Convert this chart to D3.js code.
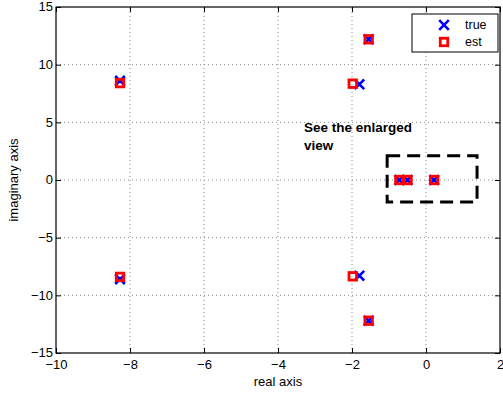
<!DOCTYPE html>
<html>
<head>
<meta charset="utf-8">
<script src="https://cdn.jsdelivr.net/npm/d3@7"></script>
<style>
  html, body { margin: 0; padding: 0; background: #fff; }
  svg { display: block; font-family: "Liberation Sans", Arial, sans-serif; }
</style>
</head>
<body>
<svg id="chart" width="503" height="394"></svg>
<script>
// Pole locations: true values and estimates (real, imaginary)
const trueReal = [-8.27, -8.27, -1.55, -1.55, -1.80, -1.80, -0.72, -0.50, 0.22];
const trueImag = [8.6, -8.6, 12.2, -12.2, 8.3, -8.3, 0, 0, 0];
const estReal  = [-8.27, -8.27, -1.55, -1.55, -1.98, -1.98, -0.72, -0.50, 0.22];
const estImag  = [8.4, -8.4, 12.2, -12.2, 8.35, -8.35, 0, 0, 0];

const xTicks = [-10, -8, -6, -4, -2, 0, 2];
const yTicks = [-15, -10, -5, 0, 5, 10, 15];
const zoomBox = { x0: -1.05, x1: 1.38, y0: -1.9, y1: 2.1 };
const note = ["See the enlarged", "view"];

const svg = d3.select("#chart");
const m = { left: 56, right: 3, top: 7, bottom: 41 };
const W = 503, H = 394;
const x = d3.scaleLinear().domain([-10, 2]).range([m.left, W - m.right]);
const y = d3.scaleLinear().domain([-15, 15]).range([H - m.bottom, m.top]);
const fmt = d => (d < 0 ? "\u2212" + Math.abs(d) : String(d));

// dotted grid
const grid = svg.append("g").attr("stroke", "#888").attr("stroke-width", 1)
  .attr("stroke-dasharray", "1,3");
xTicks.slice(1, -1).forEach(t => grid.append("line")
  .attr("x1", x(t)).attr("x2", x(t)).attr("y1", y(-15)).attr("y2", y(15)));
yTicks.slice(1, -1).forEach(t => grid.append("line")
  .attr("x1", x(-10)).attr("x2", x(2)).attr("y1", y(t)).attr("y2", y(t)));

// axes with inward ticks
const axB = svg.append("g").attr("transform", `translate(0,${y(-15)})`)
  .call(d3.axisBottom(x).tickValues(xTicks).tickFormat(fmt).tickSizeInner(-5).tickSizeOuter(0).tickPadding(7));
const axL = svg.append("g").attr("transform", `translate(${x(-10)},0)`)
  .call(d3.axisLeft(y).tickValues(yTicks).tickFormat(fmt).tickSizeInner(-5).tickSizeOuter(0).tickPadding(3));
const axT = svg.append("g").attr("transform", `translate(0,${y(15)})`)
  .call(d3.axisTop(x).tickValues(xTicks).tickFormat("").tickSizeInner(-5).tickSizeOuter(0));
const axR = svg.append("g").attr("transform", `translate(${x(2)},0)`)
  .call(d3.axisRight(y).tickValues(yTicks).tickFormat("").tickSizeInner(-5).tickSizeOuter(0));
[axB, axL, axT, axR].forEach(a => {
  a.select(".domain").remove();
  a.selectAll("line").attr("stroke", "#000");
  a.selectAll("text").attr("font-size", 13).attr("fill", "#000")
    .attr("font-family", "Liberation Sans, Arial, sans-serif");
});
axL.selectAll("text").attr("dy", "0.3em");

// frame
svg.append("rect").attr("x", x(-10)).attr("y", y(15))
  .attr("width", x(2) - x(-10)).attr("height", y(-15) - y(15))
  .attr("fill", "none").attr("stroke", "#000").attr("stroke-width", 1.2);

// axis titles
svg.append("text").attr("x", (x(-10) + x(2)) / 2).attr("y", 386)
  .attr("text-anchor", "middle").attr("font-size", 13).text("real axis");
svg.append("text").attr("transform", `translate(18,${(y(15) + y(-15)) / 2}) rotate(-90)`)
  .attr("text-anchor", "middle").attr("font-size", 13).text("imaginary axis");

// dashed box around the cluster near the origin
svg.append("rect").attr("x", x(zoomBox.x0)).attr("y", y(zoomBox.y1))
  .attr("width", x(zoomBox.x1) - x(zoomBox.x0)).attr("height", y(zoomBox.y0) - y(zoomBox.y1))
  .attr("fill", "none").attr("stroke", "#000").attr("stroke-width", 3)
  .attr("stroke-dasharray", "13,7");

svg.append("text").attr("x", x(-3.3)).attr("y", y(4.2))
  .attr("font-size", 13.5).attr("font-weight", "bold")
  .selectAll("tspan").data(note).join("tspan")
  .attr("x", x(-3.3)).attr("dy", (d, i) => i ? 18 : 0).text(d => d);

// markers
const cross = (g, cx, cy, r) => g.append("path")
  .attr("d", `M${cx - r},${cy - r}L${cx + r},${cy + r}M${cx - r},${cy + r}L${cx + r},${cy - r}`)
  .attr("stroke", "#0000ff").attr("stroke-width", 2.6).attr("fill", "none");
const square = (g, cx, cy, s) => g.append("rect")
  .attr("x", cx - s / 2).attr("y", cy - s / 2).attr("width", s).attr("height", s)
  .attr("stroke", "#ff0000").attr("stroke-width", 2.8).attr("fill", "none");

const marks = svg.append("g");
trueReal.forEach((v, i) => cross(marks, x(v), y(trueImag[i]), 4.8));
estReal.forEach((v, i) => square(marks, x(v), y(estImag[i]), 7.5));

// legend
const lg = svg.append("g");
lg.append("rect").attr("x", 412).attr("y", 14).attr("width", 86).attr("height", 38)
  .attr("fill", "#fff").attr("stroke", "#000").attr("stroke-width", 1);
cross(lg, 444, 25, 4.8);
square(lg, 444, 42, 7.5);
lg.append("text").attr("x", 465).attr("y", 29).attr("font-size", 12.5).text("true");
lg.append("text").attr("x", 465).attr("y", 46).attr("font-size", 12.5).text("est");
</script>
</body>
</html>
